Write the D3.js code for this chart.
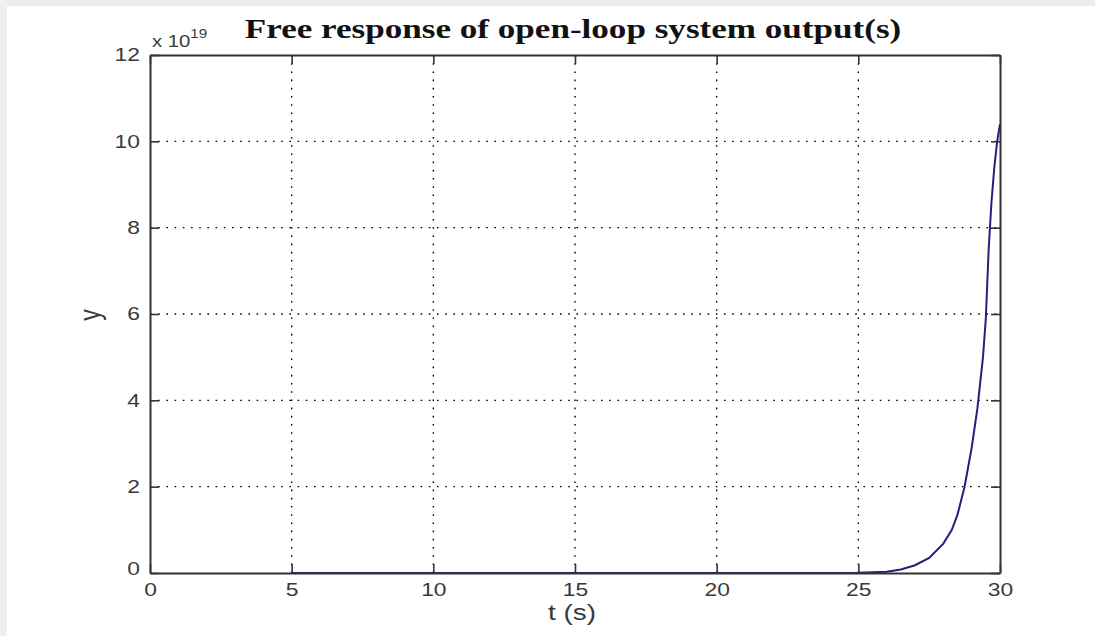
<!DOCTYPE html>
<html>
<head>
<meta charset="utf-8">
<script src="https://cdn.jsdelivr.net/npm/d3@7"></script>
<style>
  html, body { margin: 0; padding: 0; background: #ffffff; }
  svg { display: block; }
</style>
</head>
<body>
<svg id="chart" width="1095" height="636"></svg>
<script>
// Time samples (s) and output values (in units of 1e19)
const times  = [5, 10, 15, 20, 25, 26, 26.5, 27, 27.5, 28, 28.3, 28.5, 28.75, 29, 29.2, 29.4, 29.5, 29.6, 29.7, 29.8, 29.9, 30];
const values = [0, 0, 0, 0, 0.005, 0.03, 0.08, 0.18, 0.35, 0.68, 1.0, 1.35, 2.0, 2.9, 3.8, 5.0, 5.9, 7.5, 8.6, 9.4, 10.0, 10.4];

const xTicks = [0, 5, 10, 15, 20, 25, 30];
const yTicks = [0, 2, 4, 6, 8, 10, 12];

const titleText = "Free response of open-loop system output(s)";
const xLabel = "t (s)";
const yLabel = "y";

(function () {
  const svg = d3.select("#chart");
  const W = 1095, H = 636;
  const pLeft = 150, pRight = 1000, pTop = 55, pBottom = 573;
  const sx = 1.27;                 // horizontal widening of the lettering
  const sans = "'Liberation Sans', Arial, sans-serif";
  const serif = "'Liberation Serif', 'Times New Roman', serif";
  const ink = "#3a3a3a";

  // light frame strips along the top and left edges
  svg.append("rect").attr("x", 0).attr("y", 0).attr("width", W).attr("height", 6).attr("fill", "#ededed");
  svg.append("rect").attr("x", 0).attr("y", 0).attr("width", 7).attr("height", H).attr("fill", "#efefef");

  const x = d3.scaleLinear().domain([0, 30]).range([pLeft, pRight]);
  const y = d3.scaleLinear().domain([0, 12]).range([pBottom, pTop]);

  // dotted grid
  const grid = svg.append("g").attr("stroke", "#000").attr("stroke-width", 1.4)
    .attr("stroke-dasharray", "1.6,6.6");
  grid.selectAll(".gx").data(xTicks.slice(1, -1)).join("line")
    .attr("x1", d => x(d)).attr("x2", d => x(d))
    .attr("y1", pTop).attr("y2", pBottom);
  grid.selectAll(".gy").data(yTicks.slice(1, -1)).join("line")
    .attr("y1", d => y(d)).attr("y2", d => y(d))
    .attr("x1", pLeft).attr("x2", pRight);

  // data line
  const line = d3.line().x((d, i) => x(times[i])).y(d => y(d));
  svg.append("path").datum(values)
    .attr("d", line)
    .attr("fill", "none")
    .attr("stroke", "#20207e")
    .attr("stroke-width", 2);

  // axes with inward ticks on all four sides
  const tickLen = 9;
  const bAxis = svg.append("g").attr("transform", `translate(0,${pBottom})`)
    .call(d3.axisBottom(x).tickValues(xTicks).tickSizeInner(-tickLen).tickSizeOuter(0).tickPadding(10));
  const tAxis = svg.append("g").attr("transform", `translate(0,${pTop})`)
    .call(d3.axisTop(x).tickValues(xTicks).tickSizeInner(-tickLen).tickSizeOuter(0).tickFormat(""));
  const lAxis = svg.append("g").attr("transform", `translate(${pLeft},0)`)
    .call(d3.axisLeft(y).tickValues(yTicks).tickSizeInner(-tickLen).tickSizeOuter(0).tickPadding(10));
  const rAxis = svg.append("g").attr("transform", `translate(${pRight},0)`)
    .call(d3.axisRight(y).tickValues(yTicks).tickSizeInner(-tickLen).tickSizeOuter(0).tickFormat(""));

  [bAxis, tAxis, lAxis, rAxis].forEach(g => {
    g.select(".domain").attr("stroke", "#333").attr("stroke-width", 2);
    g.selectAll(".tick line").attr("stroke", "#333").attr("stroke-width", 1.6);
    g.selectAll("text").attr("font-family", sans).attr("font-size", 18)
      .attr("fill", ink)
      .attr("transform", `scale(${sx},1)`);
  });
  // keep the stretched left labels anchored next to the axis
  lAxis.selectAll("text").attr("x", -10 / sx);
  // the zero label of the y axis sits a little above the corner
  lAxis.selectAll(".tick text").filter(d => d === 0).attr("dy", "0.1em");

  // exponent marker above the y axis
  const expo = svg.append("text")
    .attr("transform", `translate(152,47) scale(${sx},1)`)
    .attr("font-family", sans).attr("font-size", 16).attr("fill", ink);
  expo.append("tspan").text("x 10");
  expo.append("tspan").attr("dy", -9).attr("font-size", 12).text("19");

  // title
  svg.append("text")
    .attr("transform", `translate(${(pLeft + pRight) / 2 - 2},38) scale(1.3,1)`)
    .attr("text-anchor", "middle")
    .attr("font-family", serif)
    .attr("font-weight", "bold").attr("font-size", 27).attr("fill", "#111")
    .text(titleText);

  // axis labels
  svg.append("text")
    .attr("transform", `translate(${(pLeft + pRight) / 2 - 3},620) scale(${sx},1)`)
    .attr("text-anchor", "middle")
    .attr("font-family", sans)
    .attr("font-size", 22).attr("fill", ink)
    .text(xLabel);
  svg.append("text")
    .attr("transform", `translate(100,315) scale(${sx},1) rotate(-90)`)
    .attr("text-anchor", "middle")
    .attr("font-family", sans)
    .attr("font-size", 23).attr("fill", ink)
    .text(yLabel);
})();
</script>
</body>
</html>
